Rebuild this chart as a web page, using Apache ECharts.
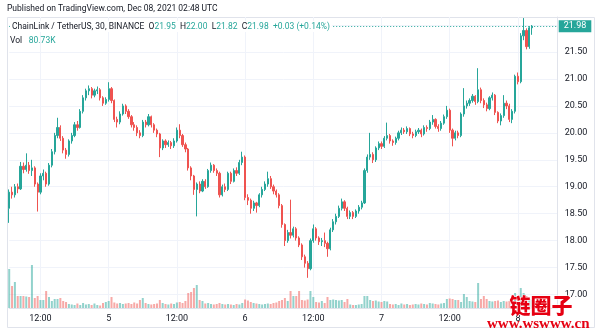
<!DOCTYPE html>
<html>
<head>
<meta charset="utf-8">
<script src="https://cdn.jsdelivr.net/npm/echarts@6/dist/echarts.min.js"></script>
<style>
  html, body { margin: 0; padding: 0; background: #ffffff; }
  #chart { width: 600px; height: 334px; }
</style>
</head>
<body>
<div id="chart"></div>
<script>
// LINK/USDT, 30-minute candles, Binance, 4 Dec 06:30 UTC to 8 Dec 02:30 UTC
const opens = [
  18.60,18.90,18.85,19.00,18.96,19.38,19.32,19.40,19.30,19.35,
  19.05,18.90,19.20,19.25,19.05,19.40,19.65,19.95,20.10,19.90,
  19.68,19.60,19.85,19.95,20.15,20.10,20.40,20.65,20.78,20.82,
  20.70,20.78,20.80,20.65,20.55,20.62,20.82,20.60,20.25,20.20,
  20.35,20.50,20.40,20.30,20.15,20.10,20.00,19.95,20.20,20.15,
  20.30,20.15,20.05,19.98,19.72,19.85,19.78,19.82,19.76,19.85,
  20.05,19.95,19.78,19.70,19.35,19.20,18.95,19.05,18.92,19.10,
  19.00,19.30,19.40,19.30,19.25,18.85,19.00,18.95,19.25,19.10,
  19.30,19.25,19.45,19.55,18.80,18.75,18.60,18.70,18.65,18.85,
  18.95,19.05,19.15,19.00,18.92,18.85,18.65,18.30,18.00,18.15,
  18.10,18.22,18.05,17.92,17.70,17.58,17.48,18.00,18.22,18.05,
  17.98,18.00,17.95,17.85,18.20,18.35,18.45,18.60,18.72,18.60,
  18.45,18.52,18.45,18.55,18.62,18.70,19.30,19.55,19.60,19.50,
  19.72,19.80,19.75,19.90,19.95,19.85,19.82,19.90,20.00,20.05,
  20.02,20.08,19.98,19.95,20.02,20.05,19.98,20.10,20.08,20.20,
  20.25,20.12,20.08,20.18,20.30,20.42,20.05,19.90,20.00,19.95,
  20.35,20.50,20.55,20.60,20.68,20.58,20.80,20.60,20.52,20.45,
  20.65,20.70,20.38,20.22,20.32,20.55,20.50,20.25,20.40,21.05,
  20.95,21.80,21.90,21.60,21.95
];
const closes = [
  18.90,18.85,19.00,18.96,19.38,19.32,19.40,19.30,19.35,19.05,
  18.90,19.20,19.25,19.05,19.40,19.65,19.95,20.10,19.90,19.68,
  19.60,19.85,19.95,20.15,20.10,20.40,20.65,20.78,20.82,20.70,
  20.78,20.80,20.65,20.55,20.62,20.82,20.60,20.25,20.20,20.35,
  20.50,20.40,20.30,20.15,20.10,20.00,19.95,20.20,20.15,20.30,
  20.15,20.05,19.98,19.72,19.85,19.78,19.82,19.76,19.85,20.05,
  19.95,19.78,19.70,19.35,19.20,18.95,19.05,18.92,19.10,19.00,
  19.30,19.40,19.30,19.25,18.85,19.00,18.95,19.25,19.10,19.30,
  19.25,19.45,19.55,18.80,18.75,18.60,18.70,18.65,18.85,18.95,
  19.05,19.15,19.00,18.92,18.85,18.65,18.30,18.00,18.15,18.10,
  18.22,18.05,17.92,17.70,17.58,17.48,18.00,18.22,18.05,17.98,
  18.00,17.95,17.85,18.20,18.35,18.45,18.60,18.72,18.60,18.45,
  18.52,18.45,18.55,18.62,18.70,19.30,19.55,19.60,19.50,19.72,
  19.80,19.75,19.90,19.95,19.85,19.82,19.90,20.00,20.05,20.02,
  20.08,19.98,19.95,20.02,20.05,19.98,20.10,20.08,20.20,20.25,
  20.12,20.08,20.18,20.30,20.42,20.05,19.90,20.00,19.95,20.35,
  20.50,20.55,20.60,20.68,20.58,20.80,20.60,20.52,20.45,20.65,
  20.70,20.38,20.22,20.32,20.55,20.50,20.25,20.40,21.05,20.95,
  21.80,21.90,21.60,21.95,21.98
];
const lows = [
  18.33,18.78,18.80,18.88,18.94,19.25,19.28,19.24,19.20,19.00,
  18.54,18.86,19.12,19.00,19.02,19.36,19.60,19.90,19.85,19.62,
  19.52,19.56,19.80,19.92,20.04,20.08,20.36,20.60,20.70,20.64,
  20.66,20.72,20.60,20.50,20.52,20.58,20.55,20.20,20.10,20.16,
  20.32,20.35,20.26,20.10,20.04,19.94,19.90,19.92,20.10,20.12,
  20.10,20.00,19.92,19.55,19.68,19.72,19.74,19.70,19.72,19.82,
  19.90,19.74,19.64,19.30,19.12,18.85,18.45,18.88,18.90,18.96,
  18.98,19.26,19.26,19.20,18.80,18.82,18.90,18.92,19.05,19.08,
  19.20,19.22,19.40,18.75,18.66,18.50,18.55,18.52,18.62,18.80,
  18.92,19.00,18.96,18.86,18.80,18.60,18.24,17.90,17.96,18.04,
  18.06,18.00,17.88,17.64,17.50,17.31,17.45,17.96,18.00,17.92,
  17.90,17.88,17.70,17.82,18.16,18.30,18.42,18.56,18.55,18.40,
  18.40,18.40,18.42,18.50,18.58,18.68,19.26,19.50,19.44,19.46,
  19.68,19.70,19.72,19.86,19.80,19.76,19.78,19.86,19.96,19.98,
  19.98,19.94,19.90,19.92,19.98,19.92,19.95,20.02,20.05,20.15,
  20.08,20.02,20.04,20.15,20.26,20.00,19.75,19.86,19.90,19.92,
  20.30,20.45,20.50,20.56,20.52,20.55,20.55,20.46,20.40,20.42,
  20.60,20.33,20.18,20.14,20.28,20.44,20.20,20.18,20.36,20.90,
  20.92,21.72,21.55,21.56,21.82
];
const highs = [
  18.95,19.00,19.05,19.06,19.46,19.45,19.62,19.46,19.50,19.38,
  19.08,19.25,19.32,19.28,19.44,19.70,20.00,20.28,20.14,19.94,
  19.72,19.88,20.00,20.20,20.22,20.44,20.70,20.82,20.88,20.85,
  20.82,20.86,20.83,20.68,20.66,20.94,20.85,20.62,20.30,20.40,
  20.54,20.53,20.44,20.33,20.20,20.14,20.05,20.24,20.24,20.35,
  20.32,20.18,20.08,20.00,19.88,19.88,19.86,19.85,19.90,20.10,
  20.16,19.98,19.82,19.72,19.38,19.22,19.08,19.10,19.14,19.14,
  19.33,19.45,19.42,19.34,19.28,19.04,19.06,19.28,19.28,19.34,
  19.36,19.50,19.65,19.58,18.86,18.78,18.74,18.72,18.88,19.00,
  19.10,19.28,19.20,19.04,18.95,18.88,18.68,18.32,18.20,18.76,
  18.26,18.25,18.08,17.95,17.74,17.62,18.04,18.30,18.25,18.08,
  18.05,18.15,17.98,18.24,18.40,18.50,18.65,18.78,18.75,18.63,
  18.56,18.55,18.58,18.66,18.74,19.34,19.60,20.00,19.64,19.75,
  19.84,19.84,19.94,20.19,19.98,19.88,19.93,20.04,20.10,20.09,
  20.12,20.10,20.02,20.06,20.09,20.08,20.14,20.14,20.24,20.33,
  20.27,20.16,20.22,20.34,20.50,20.45,20.08,20.04,20.04,20.38,
  20.83,20.60,20.64,20.72,20.70,21.20,20.84,20.64,20.56,20.68,
  20.75,20.72,20.40,20.36,20.70,20.60,20.54,20.44,21.08,21.12,
  21.85,22.13,21.94,21.98,22.00
];
// volume in thousands of LINK
const volumes = [
  390,220,260,120,120,120,115,110,430,100,
  120,80,80,170,110,70,90,90,100,70,
  60,40,35,30,45,30,50,35,40,30,
  45,30,25,50,60,70,110,55,45,50,
  40,45,50,40,55,45,80,100,50,40,
  35,40,45,80,50,40,35,45,40,55,
  60,50,70,150,160,200,230,80,70,45,
  50,40,35,40,50,40,35,40,35,30,
  40,35,50,85,75,60,50,45,40,35,
  40,45,40,50,55,70,80,100,70,170,
  120,120,170,80,75,85,170,110,60,55,
  70,50,110,80,85,80,75,80,60,90,
  35,30,30,35,40,120,120,80,70,75,
  65,60,70,65,40,35,40,30,45,35,
  40,30,35,40,35,45,40,35,50,45,
  40,35,45,50,90,95,90,80,80,60,
  140,110,70,65,60,250,90,120,90,70,
  65,70,75,60,70,65,70,75,150,100,
  200,150,120,90,80.73
];
// x-axis: 30-minute slots, including empty space to the right of the last bar
const startTime = Date.UTC(2021, 11, 4, 6, 30);
const slotCount = 194;
const markedTimes = ['00:00', '12:00'];
const priceTicks = [17.0, 17.5, 18.0, 18.5, 19.0, 19.5, 20.0, 20.5, 21.0, 21.5];

const pad = n => String(n).padStart(2, '0');
const categories = [];
for (let i = 0; i < slotCount; i++) {
  const d = new Date(startTime + i * 30 * 60000);
  categories.push(d.getUTCDate() + ' ' + pad(d.getUTCHours()) + ':' + pad(d.getUTCMinutes()));
}
const isMarked = (idx, val) => markedTimes.indexOf(String(val).split(' ')[1]) >= 0;
const timeLabel = val => {
  const [day, hm] = String(val).split(' ');
  return hm === '00:00' ? day : hm;
};

const UP = '#26a69a', DOWN = '#ef5350';
const candleData = opens.map((o, i) => [o, closes[i], lows[i], highs[i]]);
const last = opens.length - 1;
const change = closes[last] - closes[last - 1];
const changePct = change / closes[last - 1] * 100;
const sign = v => (v >= 0 ? '+' : '');

const gridLeft = 9.2, gridWidth = 548.5;
const chart = echarts.init(document.getElementById('chart'), null, { renderer: 'canvas' });
const font = 'Roboto, "Liberation Sans", sans-serif';

chart.setOption({
  animation: false,
  backgroundColor: '#ffffff',
  grid: [
    { left: gridLeft, width: gridWidth, top: 17, height: 291 },
    { left: gridLeft, width: gridWidth, top: 248, height: 60 }
  ],
  xAxis: [
    {
      type: 'category', gridIndex: 0, data: categories, boundaryGap: false,
      axisLine: { show: true, lineStyle: { color: '#e0e3eb', width: 1 } },
      axisTick: { show: false },
      axisLabel: {
        interval: isMarked, formatter: timeLabel, margin: 6,
        fontSize: 9, fontFamily: font, color: '#131722'
      },
      splitLine: { show: true, interval: isMarked, lineStyle: { color: '#f0f3fa', width: 1 } }
    },
    {
      type: 'category', gridIndex: 1, data: categories, boundaryGap: false, show: false
    }
  ],
  yAxis: [
    {
      type: 'value', gridIndex: 0, position: 'right',
      min: 16.75, max: 22.15, interval: 0.25,
      axisLine: { show: true, lineStyle: { color: '#e0e3eb', width: 1 } },
      axisTick: { show: false },
      axisLabel: {
        margin: 7, fontSize: 9, fontFamily: font, color: '#131722',
        formatter: v => priceTicks.some(t => Math.abs(t - v) < 1e-6) ? v.toFixed(2) : ''
      },
      splitLine: { show: true, showMinLine: true, lineStyle: { color: ['rgba(0,0,0,0)', '#f0f3fa'], width: 1 } }
    },
    { type: 'value', gridIndex: 1, min: 0, max: 600, show: false }
  ],
  series: [
    {
      type: 'bar', xAxisIndex: 1, yAxisIndex: 1, data: volumes, barWidth: 2,
      itemStyle: {
        color: p => closes[p.dataIndex] >= opens[p.dataIndex] ? 'rgba(38,166,154,0.5)' : 'rgba(239,83,80,0.5)'
      },
      z: 1
    },
    {
      type: 'candlestick', xAxisIndex: 0, yAxisIndex: 0, data: candleData,
      barWidth: 1.7, clip: false,
      itemStyle: { color: UP, color0: DOWN, borderColor: UP, borderColor0: DOWN, borderWidth: 1 },
      z: 3,
      markLine: {
        silent: true, symbol: 'none', animation: false,
        lineStyle: { type: [1, 2], color: UP, width: 1 },
        label: {
          show: true, position: 'end', distance: 1,
          formatter: closes[last].toFixed(2),
          backgroundColor: UP, color: '#ffffff', padding: [2, 5, 1, 5],
          fontSize: 9, fontFamily: font
        },
        data: [{ yAxis: closes[last] }]
      }
    }
  ],
  graphic: [
    {
      type: 'rect', z: 0, silent: true,
      shape: { x: 7.5, y: 17.5, width: 587, height: 310 },
      style: { fill: 'none', stroke: '#e0e3eb', lineWidth: 1 }
    },
    {
      type: 'text', left: 7, top: 4, z: 10,
      style: { text: 'Published on TradingView.com, Dec 08, 2021 02:48 UTC', font: '8.5px ' + font, fill: '#131722' }
    },
    {
      type: 'text', left: 10, top: 21, z: 10,
      style: {
        text: '{t|ChainLink / TetherUS, 30, BINANCE}  {k|O}{v|' + opens[last].toFixed(2) + '}  {k|H}{v|' + highs[last].toFixed(2) +
              '}  {k|L}{v|' + lows[last].toFixed(2) + '}  {k|C}{v|' + closes[last].toFixed(2) + '}  {v|' +
              sign(change) + change.toFixed(2) + ' (' + sign(changePct) + changePct.toFixed(2) + '%)}',
        font: '8.5px ' + font,
        backgroundColor: '#ffffff', padding: [1, 2, 1, 2],
        rich: {
          t: { fill: '#131722', font: '8.5px ' + font },
          k: { fill: '#131722', font: '8.5px ' + font },
          v: { fill: UP, font: '8.5px ' + font }
        }
      }
    },
    {
      type: 'text', left: 10, top: 35, z: 10,
      style: {
        text: '{k|Vol}  {v|' + volumes[last].toFixed(2) + 'K}',
        rich: {
          k: { fill: '#131722', font: '8.5px ' + font },
          v: { fill: UP, font: '8.5px ' + font }
        }
      }
    },
    {
      type: 'text', left: 509, top: 294, z: 20,
      style: { text: '链圈子', font: '900 21px "Noto Sans CJK SC"', fill: '#e60012', stroke: '#ffffff', lineWidth: 1 }
    },
    {
      type: 'text', left: 487, top: 317, z: 20,
      style: { text: 'www.wswww.cn', font: 'bold 15px "Liberation Serif"', fill: '#e60012' }
    }
  ]
});
</script>
</body>
</html>
